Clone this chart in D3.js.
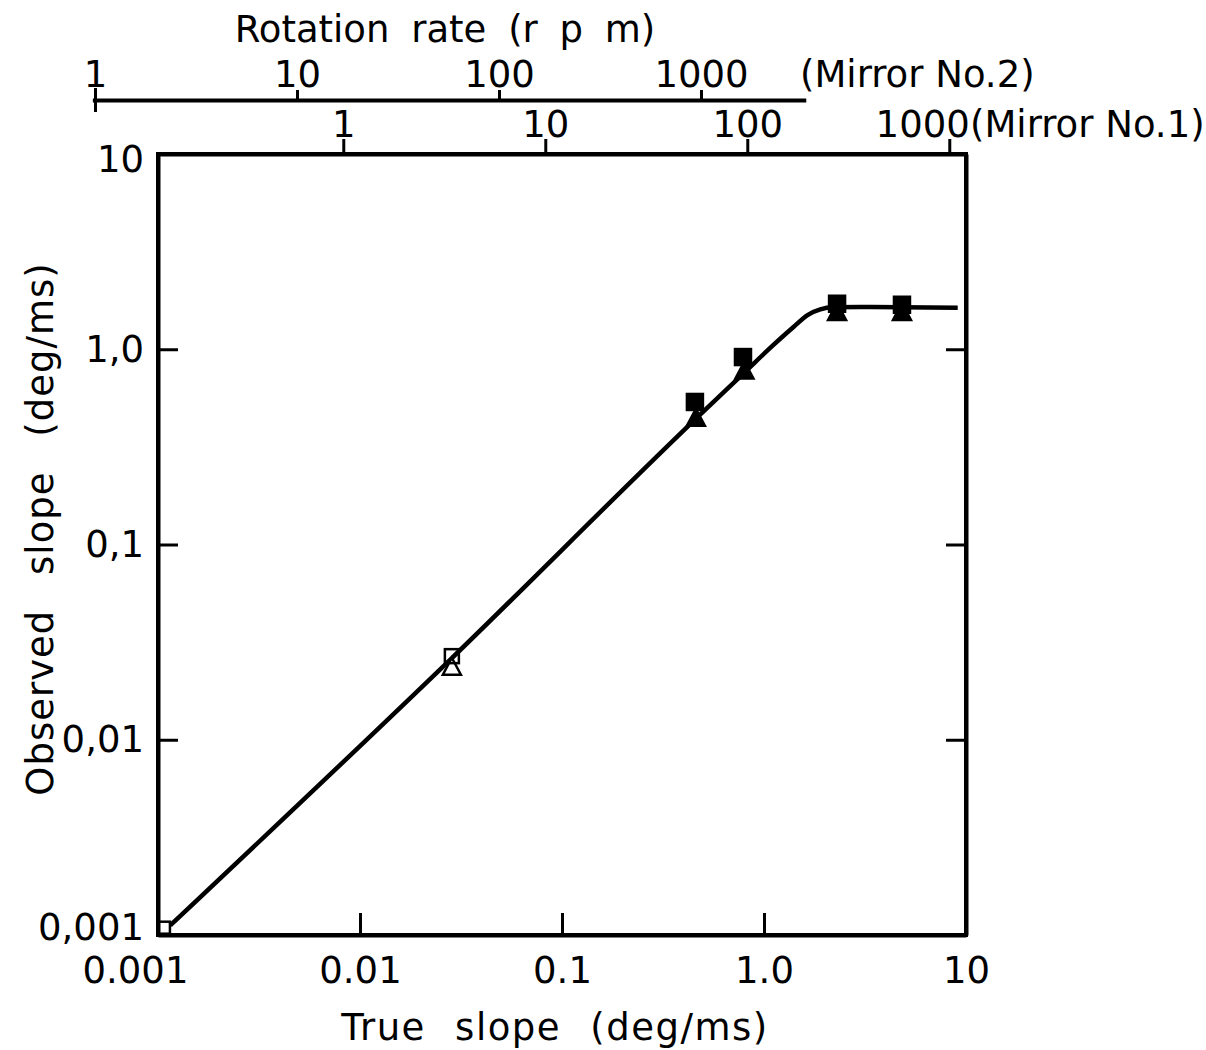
<!DOCTYPE html>
<html>
<head>
<meta charset="utf-8">
<script src="https://cdn.jsdelivr.net/npm/d3@7"></script>
<style>
  body { margin: 0; background: #fff; }
  svg text { font-family: "DejaVu Sans", sans-serif; fill: #000; }
</style>
</head>
<body>
<svg id="chart" width="1206" height="1050"></svg>
<script>
// ticks and labels
const trueTicks = [0.001, 0.01, 0.1, 1, 10];
const trueLabels = ["0.001", "0.01", "0.1", "1.0", "10"];
const obsTicks = [0.001, 0.01, 0.1, 1, 10];
const obsLabels = ["0,001", "0,01", "0,1", "1,0", "10"];
const rpmTicks = [1, 10, 100, 1000];
const rpmLabels = ["1", "10", "100", "1000"];
// rpm per deg/ms for each mirror
const mirror1Per = 121;
const mirror2Per = 2050;
const mirror2Extent = [0.97, 3300];

// fitted curve
const curveTrue = [0.00115, 0.0285, 0.48, 0.80, 1.10, 1.40, 1.65, 1.90, 2.2, 3.0, 9.1];
const curveObs  = [0.00112, 0.0262, 0.46, 0.76, 1.04, 1.30, 1.50, 1.60, 1.64, 1.645, 1.63];

// squares
const sqTrue   = [0.00107, 0.0285, 0.455, 0.787, 2.30, 4.82];
const sqObs    = [0.00109, 0.0268, 0.537, 0.912, 1.71, 1.69];
const sqFilled = [false, false, true, true, true, true];
// triangles
const triTrue   = [0.0285, 0.46, 0.80, 2.30, 4.82];
const triObs    = [0.0238, 0.448, 0.783, 1.56, 1.56];
const triFilled = [false, true, true, true, true];

const svg = d3.select("#chart");
const mLeft = 158, mRight = 966, mTop = 154, mBottom = 935;

const x = d3.scaleLog().domain([0.001, 10]).range([mLeft, mRight]);
const y = d3.scaleLog().domain([0.001, 10]).range([mBottom, mTop]);

// rpm scales sharing the same log spacing
const xm1 = d3.scaleLog()
  .domain([0.001 * mirror1Per, 10 * mirror1Per])
  .range([mLeft, mRight]);
const xm2 = d3.scaleLog()
  .domain(mirror2Extent)
  .range([x(mirror2Extent[0] / mirror2Per), x(mirror2Extent[1] / mirror2Per)]);

const fontSize = 37;

function styleAxis(g, lw) {
  g.select(".domain").attr("stroke-width", 4).attr("stroke", "#000");
  g.selectAll(".tick line").attr("stroke-width", lw).attr("stroke", "#000");
  g.selectAll(".tick text").attr("font-size", fontSize)
    .attr("font-family", "DejaVu Sans").attr("fill", "#000");
}

// frame
svg.append("rect")
  .attr("x", mLeft).attr("y", mTop)
  .attr("width", mRight - mLeft).attr("height", mBottom - mTop)
  .attr("fill", "none").attr("stroke", "#000").attr("stroke-width", 4);

// bottom axis
const gx = svg.append("g")
  .attr("transform", `translate(0,${mBottom})`)
  .call(d3.axisBottom(x).tickValues(trueTicks)
    .tickFormat((d, i) => trueLabels[i])
    .tickSizeInner(-22).tickSizeOuter(0).tickPadding(22));
styleAxis(gx, 3);
gx.selectAll(".tick text").filter((d, i) => i === 0).attr("dx", -23);
gx.selectAll(".tick line").filter(d => d === 0.001 || d === 10).remove();

// left axis
const gy = svg.append("g")
  .attr("transform", `translate(${mLeft},0)`)
  .call(d3.axisLeft(y).tickValues(obsTicks)
    .tickFormat((d, i) => obsLabels[i])
    .tickSizeInner(-20).tickSizeOuter(0).tickPadding(14));
styleAxis(gy, 3);
gy.selectAll(".tick line").filter(d => d === 0.001 || d === 10).remove();
gy.selectAll(".tick text").filter(d => d === 0.001).attr("dy", "0.12em");
gy.selectAll(".tick text").filter(d => d === 10).attr("dy", "0.48em");

// right ticks
const gr = svg.append("g")
  .attr("transform", `translate(${mRight},0)`)
  .call(d3.axisRight(y).tickValues(obsTicks.slice(1, 4))
    .tickFormat("").tickSizeInner(-20).tickSizeOuter(0));
styleAxis(gr, 3);

// Mirror No.1 rpm axis on the frame top
const gm1 = svg.append("g")
  .attr("transform", `translate(0,${mTop})`)
  .call(d3.axisTop(xm1).tickValues(rpmTicks)
    .tickFormat((d, i) => rpmLabels[i])
    .tickSizeInner(15).tickSizeOuter(0).tickPadding(2));
styleAxis(gm1, 3);
gm1.selectAll(".tick text").filter(d => d === 1000)
  .attr("text-anchor", "end").attr("dx", 20);
svg.append("text")
  .attr("x", 970).attr("y", mTop - 17)
  .attr("font-size", fontSize)
  .text("(Mirror No.1)");

// Mirror No.2 rpm axis
const m2y = 100;
const gm2 = svg.append("g")
  .attr("transform", `translate(0,${m2y})`)
  .call(d3.axisTop(xm2).tickValues(rpmTicks)
    .tickFormat((d, i) => rpmLabels[i])
    .tickSizeInner(10).tickSizeOuter(0).tickPadding(3));
styleAxis(gm2, 3);
gm2.selectAll(".tick line").filter(d => d === 1).attr("y1", 12).attr("y2", -12);
svg.append("text")
  .attr("x", 800).attr("y", m2y - 13)
  .attr("font-size", fontSize)
  .text("(Mirror No.2)");

// titles
svg.append("text")
  .attr("x", 445).attr("y", 42)
  .attr("text-anchor", "middle")
  .attr("font-size", fontSize)
  .attr("word-spacing", 10)
  .text("Rotation rate (r p m)");

svg.append("text")
  .attr("x", 555).attr("y", 1040)
  .attr("text-anchor", "middle")
  .attr("font-size", fontSize)
  .attr("letter-spacing", 1.5)
  .attr("word-spacing", 16)
  .text("True slope (deg/ms)");

svg.append("text")
  .attr("transform", "translate(53,529) rotate(-90)")
  .attr("text-anchor", "middle")
  .attr("font-size", fontSize)
  .attr("letter-spacing", 1)
  .attr("word-spacing", 22)
  .text("Observed slope (deg/ms)");

// curve
const line = d3.line()
  .x(d => x(d[0])).y(d => y(d[1]))
  .curve(d3.curveMonotoneX);
svg.append("path")
  .datum(curveTrue.map((v, i) => [v, curveObs[i]]))
  .attr("d", line)
  .attr("fill", "none").attr("stroke", "#000").attr("stroke-width", 4.5);

// triangles
const triW = 18, triH = 17;
svg.append("g").selectAll("path")
  .data(triTrue.map((v, i) => ({t: v, o: triObs[i], f: triFilled[i]})))
  .join("path")
  .attr("d", d => {
    const cx = x(d.t), cy = y(d.o);
    return `M${cx},${cy - triH / 2}L${cx + triW / 2},${cy + triH / 2}L${cx - triW / 2},${cy + triH / 2}Z`;
  })
  .attr("fill", d => d.f ? "#000" : "#fff")
  .attr("stroke", "#000").attr("stroke-width", 2.5);

// squares
const sqSide = [12, 14, 16, 16, 16, 16];
svg.append("g").selectAll("rect")
  .data(sqTrue.map((v, i) => ({t: v, o: sqObs[i], f: sqFilled[i], s: sqSide[i]})))
  .join("rect")
  .attr("x", d => x(d.t) - d.s / 2).attr("y", d => y(d.o) - d.s / 2)
  .attr("width", d => d.s).attr("height", d => d.s)
  .attr("fill", d => d.f ? "#000" : "none")
  .attr("stroke", "#000").attr("stroke-width", 2.5);
</script>
</body>
</html>
